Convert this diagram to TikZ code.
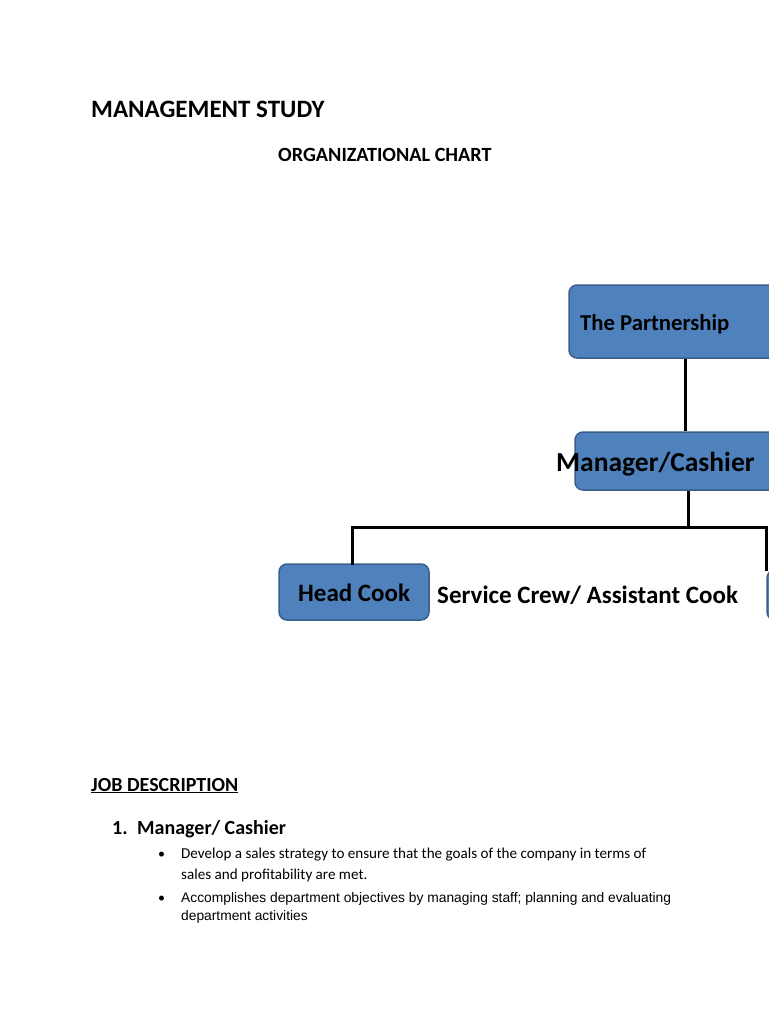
\documentclass[tikz,border=0pt]{standalone}
\usepackage{fontspec}
\setmainfont{Carlito}
\newfontfamily\arialf{Liberation Sans}
\definecolor{boxfill}{HTML}{4F81BD}
\definecolor{boxline}{HTML}{3A5F8B}
\begin{document}
\begin{tikzpicture}[x=1pt,y=-1pt,
  orgbox/.style={draw=boxline,fill=boxfill,line width=1.5pt,rounded corners=8pt,inner sep=0pt},
  txt/.style={anchor=base west,inner sep=0pt,text=black},
  link/.style={line width=3pt,black}]
\useasboundingbox (0,0) rectangle (768,1024);
\fill[white] (0,0) rectangle (768,1024);
% titles
\node[txt,font=\fontsize{25}{30}\selectfont\bfseries] (title) at (91,118) {MANAGEMENT STUDY};
\node[txt,font=\fontsize{20.2}{24}\selectfont\bfseries] (sub) at (278,162) {ORGANIZATIONAL CHART};
% boxes
\node[orgbox,minimum width=221pt,minimum height=73pt] (part) at (679.5,321.5) {};
\node[orgbox,minimum width=215pt,minimum height=58pt] (mgr) at (682.5,461) {};
\node[orgbox,minimum width=150pt,minimum height=56pt] (hc) at (354,592) {};
\node[orgbox,minimum width=120pt,minimum height=50pt] (rb) at (827,595) {};
% box texts
\node[txt,font=\fontsize{22.7}{26}\selectfont\bfseries] (parttxt) at (580,330) {The Partnership};
\node[txt,font=\fontsize{27.5}{32}\selectfont\bfseries] (mgrtxt) at (556,471) {Manager/Cashier};
\node[txt,font=\fontsize{25}{28}\selectfont\bfseries] (hctxt) at (298,601) {Head Cook};
\node[txt,font=\fontsize{25}{28}\selectfont\bfseries] (sctxt) at (437,603) {Service Crew/ Assistant Cook};
% connectors
\coordinate (bar) at (688,527);
\draw[link] (part.south -| 685,0) -- (mgr.north -| 685,0);
\draw[link] (mgr.south -| bar) -- (bar);
\draw[link,line cap=rect] (hc.north -| 352,0) |- (bar) -| (rb.north -| 766,0);
% job description
\node[txt,font=\fontsize{20}{24}\selectfont\bfseries] (jd) at (91,791) {\underline{JOB DESCRIPTION}};
\node[txt,font=\fontsize{20}{24}\selectfont\bfseries] (num) at (112,834) {1.};
\node[txt,font=\fontsize{20}{24}\selectfont\bfseries] (mc) at (137,834) {Manager/ Cashier};
\node[txt,font=\fontsize{14}{16}\selectfont] (b1) at (158,858) {\textbullet};
\node[txt,font=\fontsize{15.1}{18}\selectfont] (l1) at (181,858) {Develop a sales strategy to ensure that the goals of the company in terms of};
\node[txt,font=\fontsize{15.1}{18}\selectfont] (l2) at (181,879) {sales and profitability are met.};
\node[txt,font=\fontsize{14}{16}\selectfont] (b2) at (158,902) {\textbullet};
\node[txt,font=\arialf\fontsize{13.8}{16}\selectfont] (l3) at (181,902) {Accomplishes department objectives by managing staff; planning and evaluating};
\node[txt,font=\arialf\fontsize{13.8}{16}\selectfont] (l4) at (181,920) {department activities};
\end{tikzpicture}
\end{document}
